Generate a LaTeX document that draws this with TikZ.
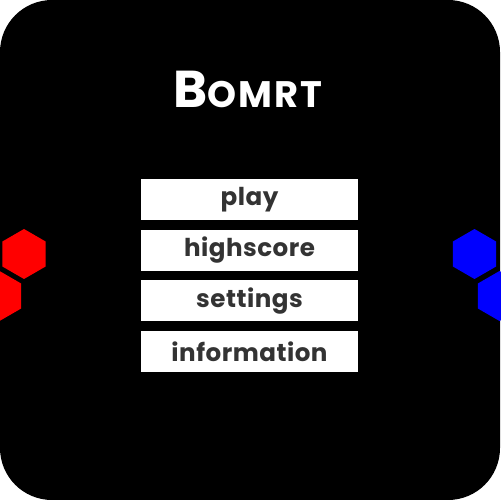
\documentclass[tikz,border=0pt]{standalone}
\usepackage{fontspec}
\setmainfont{Poppins}
\usetikzlibrary{shapes.geometric,positioning}
\definecolor{btntext}{RGB}{51,51,51}
\definecolor{hexred}{RGB}{255,0,0}
\definecolor{hexblue}{RGB}{0,0,255}

\begin{document}
\begin{tikzpicture}[x=0.02cm, y=-0.02cm,
    node distance=0.18cm,
    btn/.style={fill=white, minimum width=4.34cm, minimum height=0.82cm, inner sep=0pt, text=btntext, font=\bfseries\fontsize{14}{14}\selectfont\addfontfeature{LetterSpace=2}},
    hexa/.style={regular polygon, regular polygon sides=6, shape border rotate=30, minimum size=1cm, inner sep=0pt}]

  \useasboundingbox (0,0) rectangle (500,500);
  \fill[white] (0,0) rectangle (500,500);
  \fill[black, rounded corners=1.04cm] (0,0) rectangle (500,500);

  % title
  \node[anchor=base, text=white, inner sep=0pt] (title) at (248,108)
    {\bfseries\addfontfeature{LetterSpace=6}\fontsize{29.5}{29.5}\selectfont B\fontsize{21}{21}\selectfont OMRT};

  % menu
  \node[btn] (play) at (249.5,199.5) {play};
  \node[btn, below=of play] (highscore) {highscore};
  \node[btn, below=of highscore] (settings) {settings};
  \node[btn, below=of settings] (information) {information};

  % hexagons
  \node[hexa, fill=hexred] (redhexa) at (24,254) {};
  \node[hexa, fill=hexred] (redhexb) at (-0.5,296) {};
  \node[hexa, fill=hexblue] (bluehexa) at (474.5,254) {};
  \node[hexa, fill=hexblue] (bluehexb) at (499.5,296) {};
\end{tikzpicture}
\end{document}
